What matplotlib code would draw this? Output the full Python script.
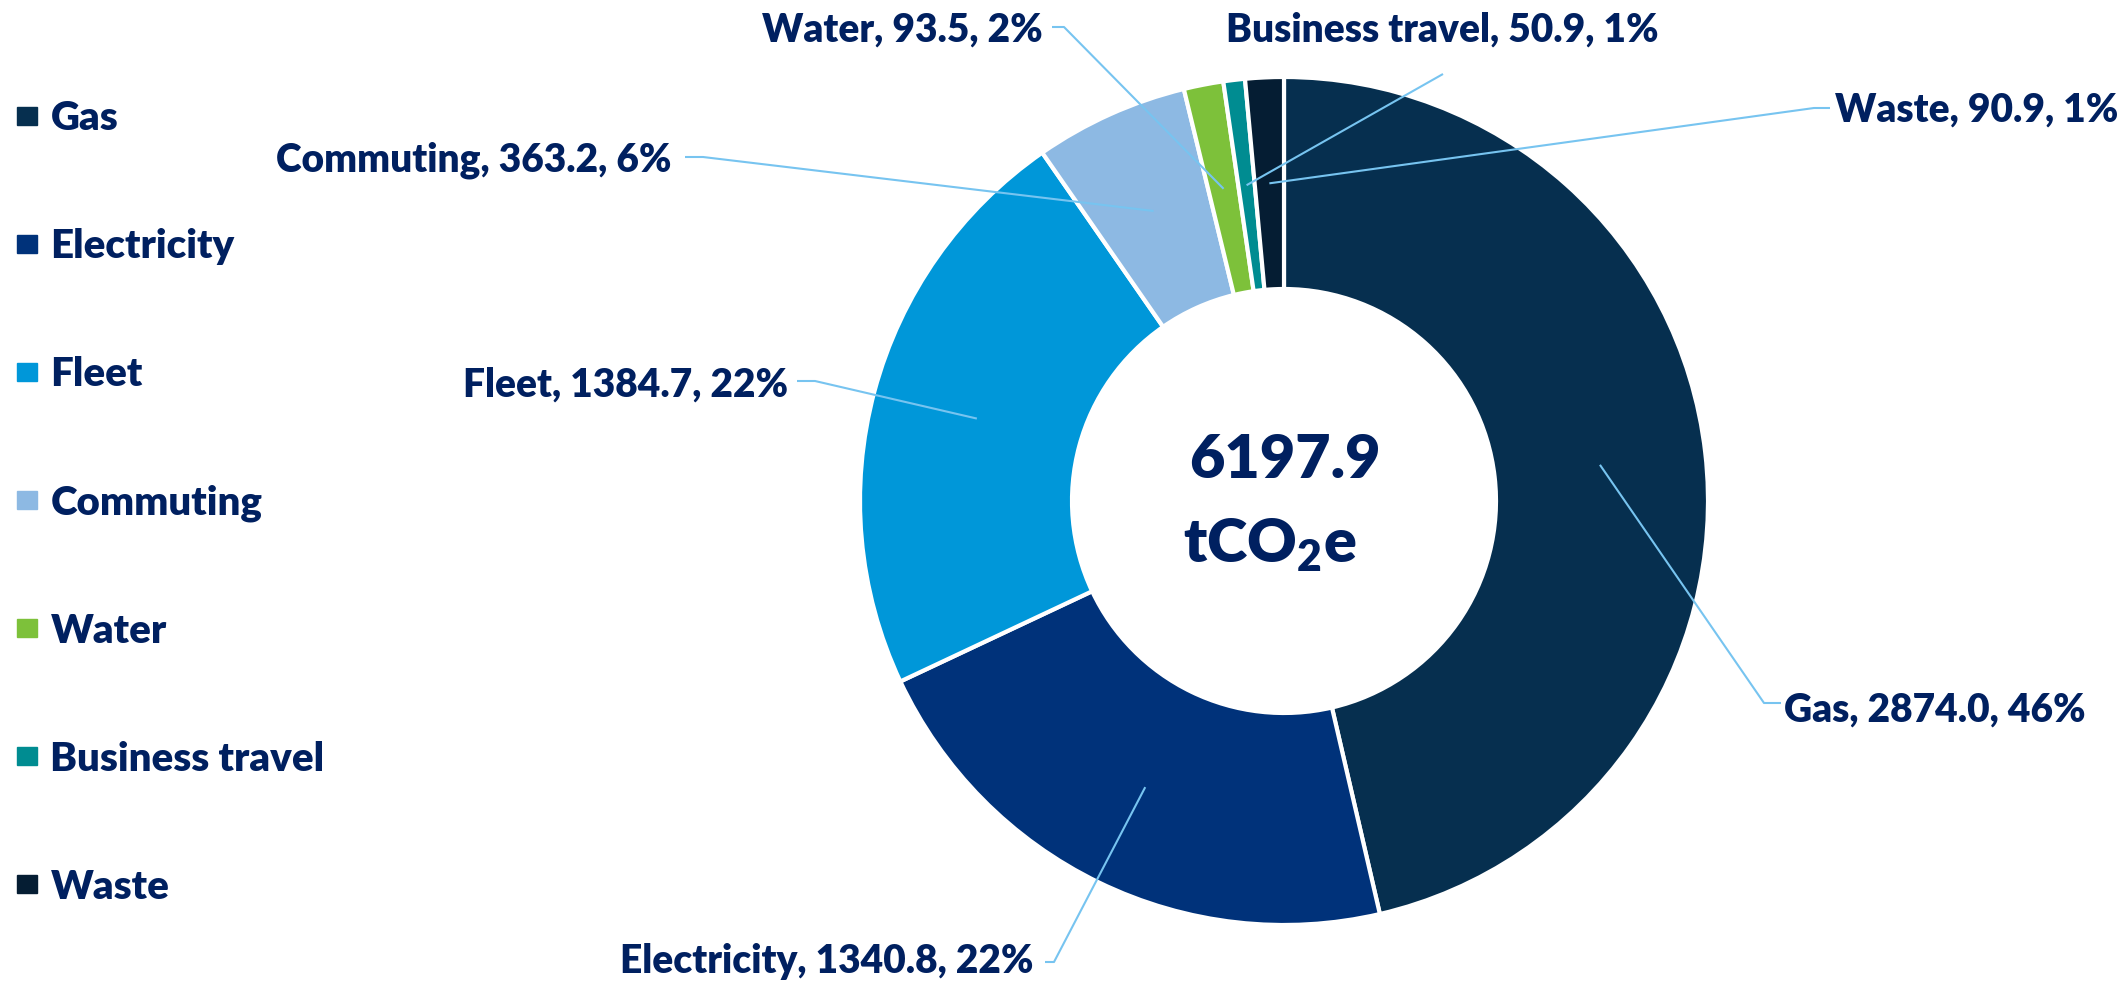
import numpy as np
import matplotlib
matplotlib.use("Agg")
import matplotlib.pyplot as plt
import matplotlib.patches as mpatches

plt.rcParams['font.family'] = ['Lato', 'DejaVu Sans']
plt.rcParams['font.weight'] = 'bold'
plt.rcParams['mathtext.fontset'] = 'custom'
plt.rcParams['mathtext.rm'] = 'Lato:heavy'
plt.rcParams['mathtext.bf'] = 'Lato:heavy'

# data
categories = ["Gas", "Electricity", "Fleet", "Commuting", "Water", "Business travel", "Waste"]
emissions = [2874.0, 1340.8, 1384.7, 363.2, 93.5, 50.9, 90.9]
shares = ["46%", "22%", "22%", "6%", "2%", "1%", "1%"]
total_label = "6197.9"
colors = ["#062F4F", "#00327A", "#0097D9", "#8DB9E3", "#7DC13A", "#008C91", "#051D33"]

TEXT = "#002060"
LEADER = "#77C4F0"

W, H = 2119, 981
CX, CY, R = 1284, 501, 424   # pie centre / radius in pixels (from top-left)


def px(x, y):
    # pixel (from top-left) -> data coords
    return (x - CX) / R, (CY - y) / R


fig = plt.figure(figsize=(W / 100, H / 100), dpi=100)
ax = fig.add_axes([0, 0, 1, 1])

wedges, _ = ax.pie(emissions, colors=colors, startangle=90, counterclock=False,
                   radius=1, wedgeprops=dict(width=0.5, edgecolor="white", linewidth=3))
ax.set_xlim(-CX / R, (W - CX) / R)
ax.set_ylim((CY - H) / R, CY / R)
ax.set_aspect("auto")
ax.axis("off")

# label layout: text anchor, ha, leader start points (pixels)
layout = {
    "Gas": ((1784, 710), "left", [(1781, 703), (1764, 703)]),
    "Electricity": ((1034, 962), "right", [(1045, 962), (1054, 962)]),
    "Fleet": ((788, 385), "right", [(797, 381), (815, 381)]),
    "Commuting": ((672, 160), "right", [(685, 157), (703, 157)]),
    "Water": ((1043, 30), "right", [(1052, 27), (1064, 27)]),
    "Business travel": ((1442, 30), "center", [(1443, 74)]),
    "Waste": ((1835, 110), "left", [(1830, 108), (1814, 108)]),
}

for w, cat, val, pct in zip(wedges, categories, emissions, shares):
    mid = np.deg2rad((w.theta1 + w.theta2) / 2)
    tip = (0.75 * np.cos(mid), 0.75 * np.sin(mid))
    (tx, ty), ha, stub = layout[cat]
    pts = [px(*p) for p in stub] + [tip]
    ax.plot([p[0] for p in pts], [p[1] for p in pts], color=LEADER, lw=1.5,
            solid_capstyle="butt", zorder=3)
    ax.text(*px(tx, ty), f"{cat}, {val:.1f}, {pct}", ha=ha, va="center",
            fontsize=28, color=TEXT, fontweight="heavy")

# centre text
ax.text(*px(1285, 460), total_label, ha="center", va="center", fontsize=44,
        color=TEXT, fontweight="heavy")
ax.text(*px(1270, 545), r"tCO$_\mathrm{2}$e", ha="center", va="center", fontsize=44,
        color=TEXT, fontweight="heavy")

# legend
handles = [mpatches.Patch(color=c, label=l) for c, l in zip(colors, categories)]
leg = fig.legend(handles=handles, loc="upper left", bbox_to_anchor=(17 / W, 1 - 100 / H),
                 frameon=False, fontsize=29, labelspacing=2.26, handlelength=0.5,
                 handleheight=0.31, handletextpad=0.33, borderpad=0, borderaxespad=0)
for t in leg.get_texts():
    t.set_color(TEXT)
    t.set_fontweight("heavy")

fig.savefig("out.png", dpi=100)
